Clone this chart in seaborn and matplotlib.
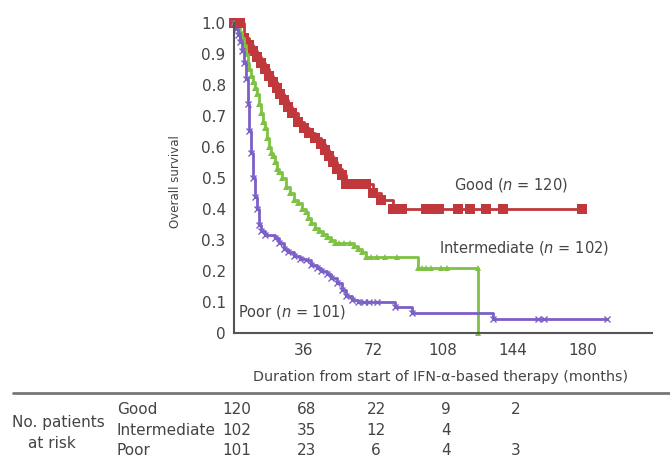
import numpy as np
import matplotlib
matplotlib.use("Agg")
import matplotlib.pyplot as plt
import matplotlib.transforms as mtransforms
from matplotlib.lines import Line2D
from matplotlib import font_manager
import seaborn as sns

sns.set_style("white")

# pick a narrow font if one is installed
names = {f.name for f in font_manager.fontManager.ttflist}
narrow = "Liberation Sans Narrow" if "Liberation Sans Narrow" in names else "DejaVu Sans"
plt.rcParams["font.family"] = [narrow, "DejaVu Sans"]
plt.rcParams["mathtext.fontset"] = "dejavusans"

###### data (months, overall survival)
good_t = [0, 5, 8, 10, 12, 14, 16, 18, 20, 22, 24, 26, 28, 30, 33, 36, 39, 42, 45, 47,
          49, 51, 53, 56, 58, 72, 76, 82, 180]
good_s = [1.0, 0.95, 0.93, 0.91, 0.89, 0.87, 0.85, 0.83, 0.81, 0.79, 0.77, 0.75, 0.73,
          0.71, 0.68, 0.66, 0.645, 0.63, 0.61, 0.59, 0.57, 0.55, 0.53, 0.51, 0.48, 0.45,
          0.43, 0.40, 0.40]
good_cens_t = [3, 60, 64, 68, 87, 99, 103, 106, 116, 122, 130, 139]
good_cens_s = [1.0, 0.48, 0.48, 0.48, 0.40, 0.40, 0.40, 0.40, 0.40, 0.40, 0.40, 0.40]

inter_t = [0, 2, 3, 4, 5, 6, 7, 8, 9, 10, 11, 12, 13, 14, 15, 16, 17, 18, 19, 20, 21, 22,
           23, 25, 27, 29, 31, 33, 35, 37, 38, 40, 42, 44, 46, 48, 50, 52, 62, 64, 66, 68,
           95, 126]
inter_s = [1.0, 0.99, 0.97, 0.95, 0.93, 0.90, 0.87, 0.85, 0.83, 0.81, 0.79, 0.77, 0.74,
           0.71, 0.68, 0.66, 0.63, 0.60, 0.58, 0.57, 0.55, 0.53, 0.52, 0.50, 0.47, 0.45,
           0.43, 0.42, 0.40, 0.39, 0.37, 0.355, 0.34, 0.33, 0.32, 0.31, 0.30, 0.29, 0.28,
           0.27, 0.26, 0.245, 0.21, 0.0]
inter_cens_t = [54, 57, 60, 71, 74, 78, 84, 97, 99, 102, 107, 110, 126]
inter_cens_s = [0.29, 0.29, 0.29, 0.245, 0.245, 0.245, 0.245, 0.21, 0.21, 0.21, 0.21, 0.21, 0.21]

poor_t = [0, 1, 2, 3, 4, 5, 6, 7, 8, 9, 10, 11, 12, 13, 14, 16, 21, 23, 26, 28, 31, 34,
          37, 40, 43, 45, 48, 50, 53, 56, 58, 61, 64, 83, 92, 134, 193]
poor_s = [1.0, 0.98, 0.96, 0.94, 0.91, 0.87, 0.82, 0.74, 0.65, 0.58, 0.50, 0.44, 0.40,
          0.35, 0.33, 0.315, 0.305, 0.29, 0.27, 0.26, 0.25, 0.24, 0.235, 0.22, 0.21, 0.20,
          0.19, 0.177, 0.16, 0.14, 0.12, 0.106, 0.10, 0.084, 0.065, 0.045, 0.045]
poor_cens_t = [67, 70, 74, 157, 160]
poor_cens_s = [0.10, 0.10, 0.10, 0.045, 0.045]

# number at risk table
risk_months = [0, 36, 72, 108, 144]
risk_good = ["120", "68", "22", "9", "2"]
risk_inter = ["102", "35", "12", "4", ""]
risk_poor = ["101", "23", "6", "4", "3"]

red = "#c0383b"
green = "#7dc242"
purple = "#7a5fc6"
txt = "#444444"

fig = plt.figure(figsize=(6.7, 4.61), dpi=100)
ax = fig.add_axes([234/670, 1-333/461, 418/670, 310/461])

sns.lineplot(x=good_t, y=good_s, drawstyle="steps-post", color=red, lw=2,
             marker="s", markersize=7.5, markeredgewidth=0, ax=ax, clip_on=False)
sns.lineplot(x=inter_t, y=inter_s, drawstyle="steps-post", color=green, lw=2,
             marker="^", markersize=5, markeredgewidth=0, ax=ax, clip_on=False)
sns.lineplot(x=poor_t, y=poor_s, drawstyle="steps-post", color=purple, lw=2,
             marker="x", markersize=4.5, markeredgewidth=1, markeredgecolor=purple,
             ax=ax, clip_on=False)

ax.plot(good_cens_t, good_cens_s, ls="none", marker="s", ms=7, mew=0, color=red, clip_on=False)
ax.plot(inter_cens_t, inter_cens_s, ls="none", marker="^", ms=5, mew=0, color=green, clip_on=False)
ax.plot(poor_cens_t, poor_cens_s, ls="none", marker="x", ms=4.5, mew=1, color=purple, clip_on=False)

ax.set_xlim(0, 216)
ax.set_ylim(0, 1.0)
ax.set_xticks([36, 72, 108, 144, 180])
ax.set_yticks(np.arange(0, 1.01, 0.1))
ax.set_yticklabels(["0", "0.1", "0.2", "0.3", "0.4", "0.5", "0.6", "0.7", "0.8", "0.9", "1.0"])
ax.tick_params(direction="in", length=4, width=1, color="#555555", labelcolor=txt,
               labelsize=11)
ax.tick_params(axis="x", pad=7)
ax.tick_params(axis="y", pad=6)
for side in ["top", "right"]:
    ax.spines[side].set_visible(False)
for side in ["left", "bottom"]:
    ax.spines[side].set_color("#555555")
    ax.spines[side].set_linewidth(1.5)

ax.set_xlabel("Duration from start of IFN-\u03b1-based therapy (months)", fontsize=10.3, color=txt)
ax.xaxis.set_label_coords(0.493, -0.118)
ax.set_ylabel("Overall survival", fontsize=8.5, color=txt)
ax.yaxis.set_label_coords(-0.125, 0.49)

ax.text(143, 0.477, "Good ($n$ = 120)", ha="center", va="center", fontsize=10.5,
        color=txt, family="DejaVu Sans")
ax.text(150, 0.274, "Intermediate ($n$ = 102)", ha="center", va="center", fontsize=10.5,
        color=txt, family="DejaVu Sans")
ax.text(30, 0.068, "Poor ($n$ = 101)", ha="center", va="center", fontsize=10.5,
        color=txt, family="DejaVu Sans")

# risk table below the axes
fig.add_artist(Line2D([13/670, 1.0], [1-393/461, 1-393/461], transform=fig.transFigure,
                      color="#777777", lw=2))
fig.text(58/670, 1-422/461, "No. patients", ha="center", va="center", fontsize=11, color=txt)
fig.text(52/670, 1-443/461, "at risk", ha="center", va="center", fontsize=11, color=txt)

trans = mtransforms.blended_transform_factory(ax.transData, fig.transFigure)
rows = [("Good", risk_good, 1-409/461), ("Intermediate", risk_inter, 1-430/461),
        ("Poor", risk_poor, 1-450/461)]
for name, vals, yy in rows:
    fig.text(117/670, yy, name, ha="left", va="center", fontsize=11, color=txt)
    for m, v in zip(risk_months, vals):
        ax.text(m + 1.5, yy, v, ha="center", va="center", fontsize=11, color=txt,
                transform=trans, clip_on=False)

fig.savefig("out.png", dpi=100)
